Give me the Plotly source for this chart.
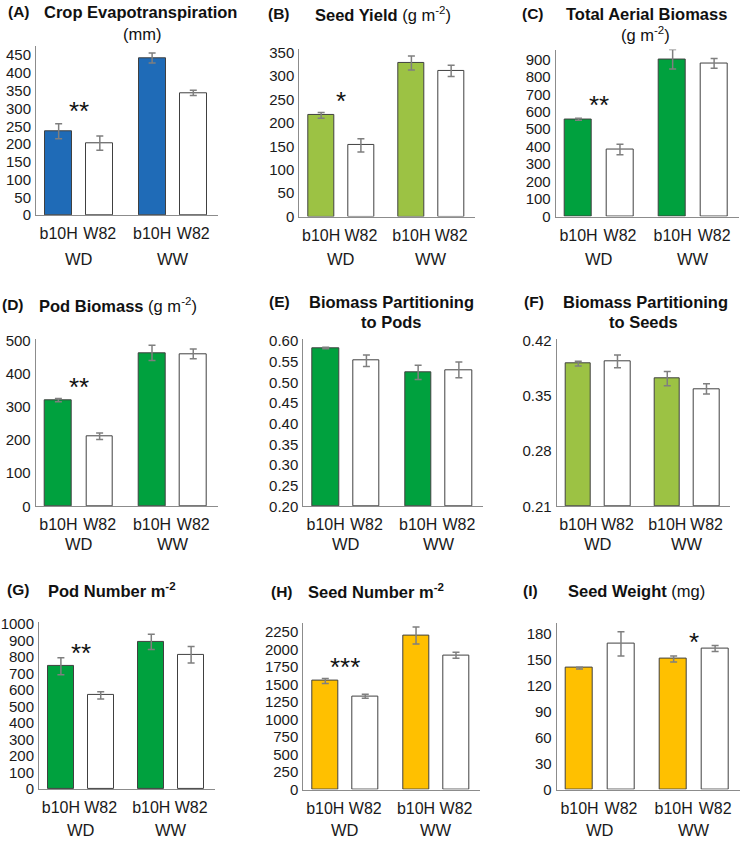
import plotly.graph_objects as go

W, H = 740, 847
FONT = "Liberation Sans, Arial, sans-serif"

genotypes = ["b10H", "W82", "b10H", "W82"]
bar_pos = [0, 1, 2.27, 3.27]
groups = ["WD", "WW"]
group_pos = [0.5, 2.77]

# ---- data ----
et_vals = [236, 203, 442, 344]
et_err = [21, 20, 14, 7.5]
yield_vals = [216, 152, 328, 311]
yield_err = [6, 14, 15, 12]
biomass_vals = [557, 384, 900, 877]
biomass_err = [6, 30, 56, 28]
pod_bio_vals = [321, 212, 464, 461]
pod_bio_err = [5, 10, 23, 15]
part_pods_vals = [0.583, 0.552, 0.524, 0.530]
part_pods_err = [0.002, 0.014, 0.017, 0.019]
part_seeds_vals = [0.391, 0.394, 0.372, 0.359]
part_seeds_err = [0.003, 0.008, 0.009, 0.0065]
pod_num_vals = [745, 568, 893, 815]
pod_num_err = [52, 22, 46, 50]
seed_num_vals = [1548, 1330, 2195, 1915]
seed_num_err = [35, 28, 121, 42]
seed_wt_vals = [140.5, 168.5, 151, 163]
seed_wt_err = [1, 14, 3.4, 3.4]

ticks_A = [0, 50, 100, 150, 200, 250, 300, 350, 400, 450]
ticks_B = [0, 50, 100, 150, 200, 250, 300, 350]
ticks_C = [0, 100, 200, 300, 400, 500, 600, 700, 800, 900]
ticks_D = [0, 100, 200, 300, 400, 500]
ticks_E = [0.20, 0.25, 0.30, 0.35, 0.40, 0.45, 0.50, 0.55, 0.60]
ticks_F = [0.21, 0.28, 0.35, 0.42]
ticks_G = [0, 100, 200, 300, 400, 500, 600, 700, 800, 900, 1000]
ticks_H = [0, 250, 500, 750, 1000, 1250, 1500, 1750, 2000, 2250]
ticks_I = [0, 30, 60, 90, 120, 150, 180]

BLUE = "#1F6BB7"
LGREEN = "#9CC244"
DGREEN = "#00A13E"
YELLOW = "#FFC000"

panels = [
    dict(v=et_vals, e=et_err, c=BLUE, t=ticks_A, f="{:.0f}", r=[0, 475], px=(36, 218, 40, 212),
         lab=("(A)", 6, 5), titles=[("<b>Crop Evapotranspiration</b>", 140.7, 5), ("(mm)", 141.7, 27)],
         sig=[("**", 0.5, 309), ("**", 2.8, 483)], wd=256.7),
    dict(v=yield_vals, e=yield_err, c=LGREEN, t=ticks_B, f="{:.0f}", r=[0, 358], px=(299.3, 475, 42.7, 213.3),
         lab=("(B)", 265.7, 7), titles=[("<b>Seed Yield</b> (g m<sup>-2</sup>)", 382.5, 7)],
         sig=[("*", 0.5, 260)], wd=256.7),
    dict(v=biomass_vals, e=biomass_err, c=DGREEN, t=ticks_C, f="{:.0f}", r=[0, 956], px=(555.7, 739, 43.3, 213.3),
         lab=("(C)", 520, 7), titles=[("<b>Total Aerial Biomass</b>", 646.7, 7), ("(g m<sup>-2</sup>)", 645, 27.5)],
         sig=[("**", 0.5, 675)], wd=256.7),
    dict(v=pod_bio_vals, e=pod_bio_err, c=DGREEN, t=ticks_D, f="{:.0f}", r=[0, 505], px=(35.7, 218, 338.3, 508.3),
         lab=("(D)", 0, 303), titles=[("<b>Pod Biomass</b> (g m<sup>-2</sup>)", 118.3, 303)],
         sig=[("**", 0.5, 379)], wd=547),
    dict(v=part_pods_vals, e=part_pods_err, c=DGREEN, t=ticks_E, f="{:.2f}", r=[0.2, 0.604], px=(303.3, 483.3, 338.3, 508.3),
         lab=("(E)", 266.7, 300), titles=[("<b>Biomass Partitioning</b>", 391.7, 300), ("<b>to Pods</b>", 391.7, 321)],
         sig=[], wd=547),
    dict(v=part_seeds_vals, e=part_seeds_err, c=LGREEN, t=ticks_F, f="{:.2f}", r=[0.21, 0.422], px=(556.7, 730, 338.3, 508.3),
         lab=("(F)", 521.7, 300), titles=[("<b>Biomass Partitioning</b>", 645.8, 300), ("<b>to Seeds</b>", 643.3, 321)],
         sig=[], wd=547),
    dict(v=pod_num_vals, e=pod_num_err, c=DGREEN, t=ticks_G, f="{:.0f}", r=[0, 1014], px=(39, 215, 626, 796),
         lab=("(G)", 5, 593.3), titles=[("<b>Pod Number m<sup>-2</sup></b>", 111.7, 593.3)],
         sig=[("**", 0.5, 859)], wd=838),
    dict(v=seed_num_vals, e=seed_num_err, c=YELLOW, t=ticks_H, f="{:.0f}", r=[0, 2380], px=(303.3, 480, 626.7, 796.7),
         lab=("(H)", 269, 595), titles=[("<b>Seed Number m<sup>-2</sup></b>", 375.8, 595)],
         sig=[("***", 0.5, 1830)], wd=838),
    dict(v=seed_wt_vals, e=seed_wt_err, c=YELLOW, t=ticks_I, f="{:.0f}", r=[0, 193], px=(556.7, 740, 626.7, 796.7),
         lab=("(I)", 520.7, 594.3), titles=[("<b>Seed Weight</b> (mg)", 636, 594.3)],
         sig=[("*", 2.77, 178)], wd=838),
]

fig = go.Figure()
annotations = []
layout = {}


def px_x(x):
    return x / W


def px_y(y):
    return 1 - y / H


for i, p in enumerate(panels):
    n = "" if i == 0 else str(i + 1)
    xa, ya = "x" + n, "y" + n
    x0, x1, top, bot = p["px"]
    colors = [p["c"], "#FFFFFF", p["c"], "#FFFFFF"]
    base = p["r"][0]
    fig.add_trace(go.Bar(
        x=bar_pos, y=[v - base for v in p["v"]], base=base, width=0.65,
        marker=dict(color=colors, line=dict(color="#404040", width=1)),
        error_y=dict(type="data", array=p["e"], visible=True, color="#7F7F7F", thickness=1.5, width=3.5),
        xaxis=xa, yaxis=ya, showlegend=False, hoverinfo="skip",
    ))
    layout["xaxis" + n] = dict(
        domain=[px_x(x0), px_x(x1)], range=[-0.55, 3.87], anchor=ya,
        tickvals=bar_pos, ticktext=genotypes, showgrid=False, zeroline=False,
        showline=True, linecolor="#8C8C8C", linewidth=1, ticks="",
        tickfont=dict(family=FONT, size=16, color="#1a1a1a"), ticklabelstandoff=4,
    )
    layout["yaxis" + n] = dict(
        domain=[px_y(bot), px_y(top)], range=p["r"], anchor=xa,
        tickvals=p["t"], ticktext=[p["f"].format(t) for t in p["t"]],
        showgrid=False, zeroline=False, showline=True, linecolor="#8C8C8C", linewidth=1,
        ticks="", tickfont=dict(family=FONT, size=15, color="#1a1a1a"), ticklabelstandoff=1,
    )
    lab, lx, ly = p["lab"]
    annotations.append(dict(text="<b>" + lab + "</b>", x=px_x(lx), y=px_y(ly), xref="paper", yref="paper",
                            xanchor="left", yanchor="middle", showarrow=False,
                            font=dict(family=FONT, size=15.5, color="#111")))
    for txt, tx, ty in p["titles"]:
        annotations.append(dict(text=txt, x=px_x(tx), y=px_y(ty), xref="paper", yref="paper",
                                xanchor="center", yanchor="middle", showarrow=False,
                                font=dict(family=FONT, size=16.5, color="#111")))
    for txt, gx in zip(groups, group_pos):
        annotations.append(dict(text=txt, x=gx, xref=xa, y=px_y(p["wd"]), yref="paper",
                                xanchor="center", yanchor="middle", showarrow=False,
                                font=dict(family=FONT, size=16.5, color="#1a1a1a")))
    for txt, sx, sy in p["sig"]:
        annotations.append(dict(text=txt, x=sx, xref=xa, y=sy, yref=ya, xanchor="center", yanchor="middle",
                                showarrow=False, yshift=-6, font=dict(family=FONT, size=26, color="#111")))

fig.update_layout(
    width=W, height=H, margin=dict(l=0, r=0, t=0, b=0),
    paper_bgcolor="white", plot_bgcolor="white",
    annotations=annotations, bargap=0, **layout,
)
css_fix = (
    "var d=document.documentElement;d.style.margin='0';d.style.padding='0';d.style.overflow='hidden';"
    "document.body.style.margin='0';document.body.style.padding='0';document.body.style.overflow='hidden';"
)
fig.write_html("out.html", post_script=css_fix, config={"displayModeBar": False})
